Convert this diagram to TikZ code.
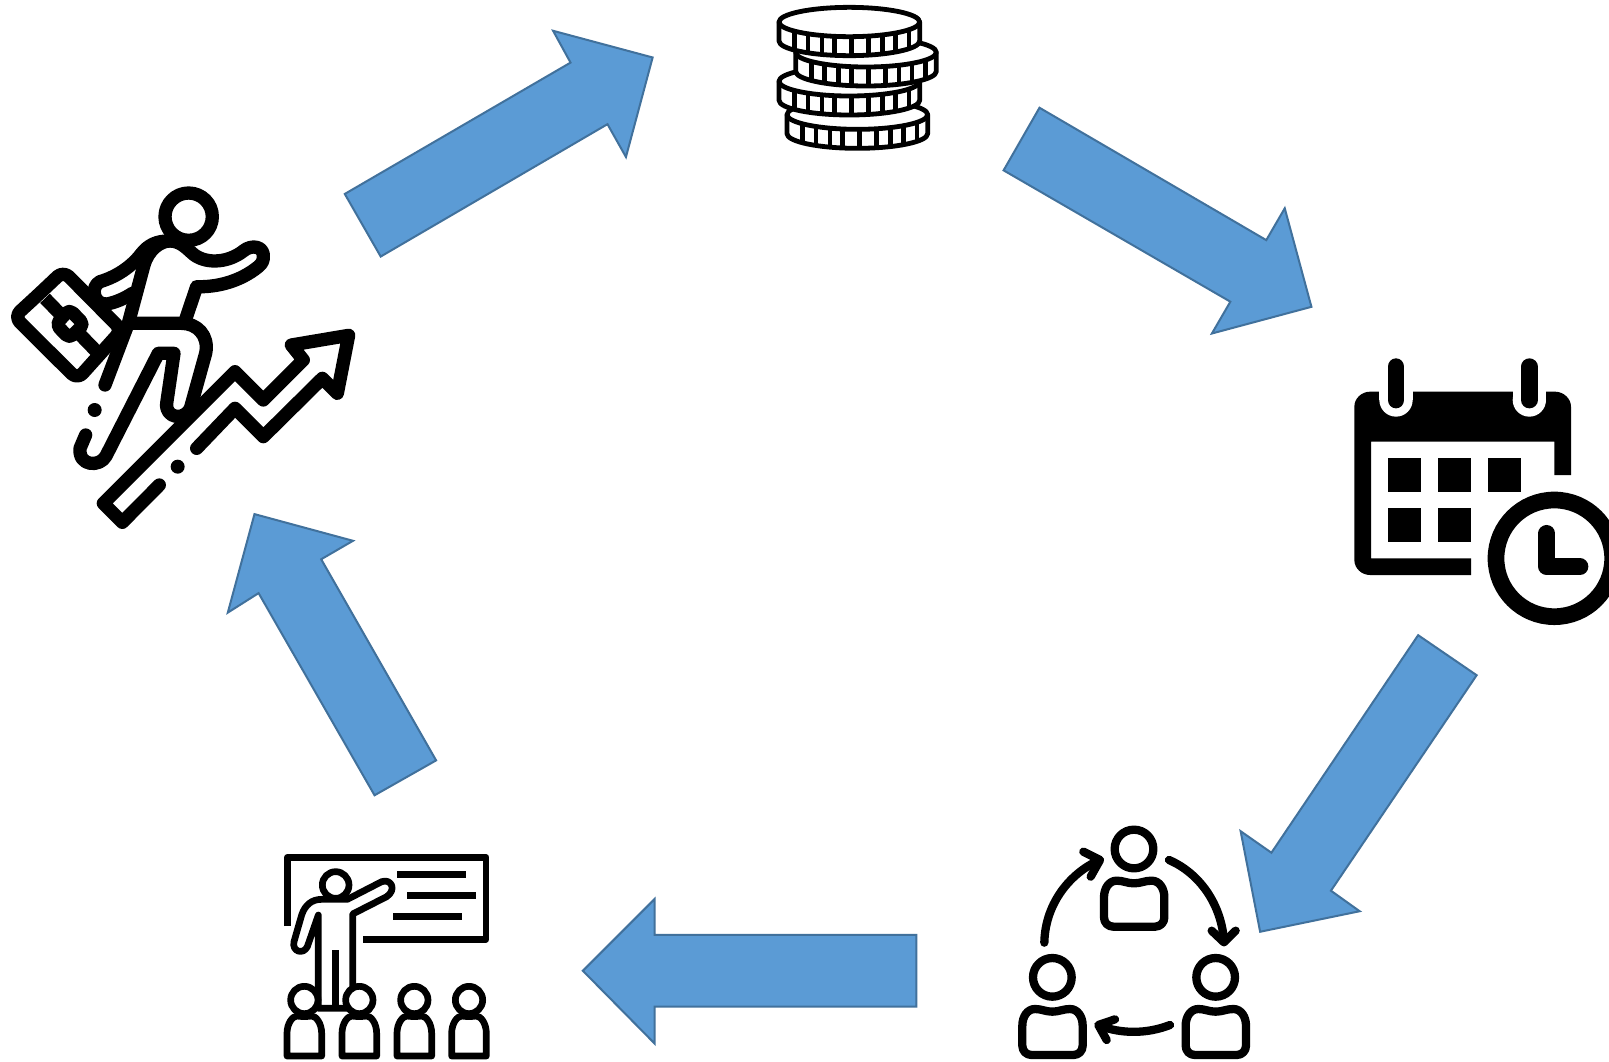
\documentclass[tikz,border=0pt]{standalone}
\definecolor{arrowfill}{HTML}{5B9BD5}
\definecolor{arrowline}{HTML}{41719C}
\tikzset{
  bigarrow/.style={fill=arrowfill,draw=arrowline,line width=2pt,line join=miter},
  ink/.style={draw=black,line cap=round,line join=round,fill=none},
  zoomframe/.style={x=0.33333pt,y=-0.33333pt},
}
\newcommand{\drawcoin}[2]{%
  \fill[white] (#1-211,#2) -- (#1-211,#2+57) .. controls (#1-211,#2+57+24) and (#1-116,#2+57+44) .. (#1,#2+57+44) .. controls (#1+116,#2+57+44) and (#1+211,#2+57+24) .. (#1+211,#2+57) -- (#1+211,#2) -- cycle;
  \foreach \a in {141,126,113,102,88,74,62,49,32}{
    \draw[line width=4.6pt] ({#1+211*cos(\a)},{#2+44*sin(\a)}) -- ({#1+211*cos(\a)},{#2+57+44*sin(\a)});
  }
  \draw[ink,line width=4.8pt,fill=white] (#1-211,#2) .. controls (#1-211,#2+24) and (#1-116,#2+44) .. (#1,#2+44) .. controls (#1+116,#2+44) and (#1+211,#2+24) .. (#1+211,#2) .. controls (#1+211,#2-24) and (#1+116,#2-44) .. (#1,#2-44) .. controls (#1-116,#2-44) and (#1-211,#2-24) .. (#1-211,#2) -- cycle;
  \draw[ink,line width=4.8pt] (#1-211,#2) -- (#1-211,#2+57) .. controls (#1-211,#2+57+24) and (#1-116,#2+57+44) .. (#1,#2+57+44) .. controls (#1+116,#2+57+44) and (#1+211,#2+57+24) .. (#1+211,#2+57) -- (#1+211,#2);
}
\newcommand{\teamperson}[2]{%
  \begin{scope}[shift={(#1,#2)}]
    \draw[ink,line width=8.3pt] (402,117) circle[radius=58];
    \draw[ink,line width=8.3pt] (350,212) .. controls (370,212) and (382,220) .. (402,220) .. controls (422,220) and (434,212) .. (455,212)
      .. controls (478,212) and (493,235) .. (493,262) -- (493,322)
      .. controls (493,338) and (481,350) .. (465,350) -- (340,350)
      .. controls (324,350) and (312,338) .. (312,322) -- (312,262)
      .. controls (312,235) and (327,212) .. (350,212) -- cycle;
  \end{scope}
}
\newcommand{\pupil}[1]{%
  \draw[ink,line width=6.7pt] (#1,480) circle[radius=41];
  \draw[ink,line width=6.7pt] (#1-52,648) -- (#1-52,580) .. controls (#1-52,550) and (#1-35,528) .. (#1-22,528)
    .. controls (#1-10,530) and (#1+10,530) .. (#1+22,528) .. controls (#1+35,528) and (#1+52,550) .. (#1+52,580) -- (#1+52,648) -- cycle;
}
\begin{document}
\begin{tikzpicture}[x=1pt,y=-1pt]
\useasboundingbox (0,0) rectangle (1609,1061);
\clip (0,0) rectangle (1609,1061);
\fill[white] (0,0) rectangle (1609,1061);

% ---- block arrows (coordinates of the 1568 wide view)
\begin{scope}[x=1.02615pt,y=-1.02615pt]
  \draw[bigarrow] (336,189) -- (556,61) -- (539,30) -- (636,56) -- (610,153) -- (592,121) -- (371,250) -- cycle;
  \draw[bigarrow] (1013,105) -- (1234,234) -- (1252,203) -- (1278,299) -- (1181,325) -- (1199,294) -- (978,166) -- cycle;
  \draw[bigarrow] (1439,658) -- (1297,868) -- (1325,888) -- (1228,908) -- (1209,810) -- (1239,831) -- (1382,619) -- cycle;
  \draw[bigarrow] (893,981) -- (638,981) -- (638,1017) -- (568,946) -- (638,876) -- (638,911) -- (893,911) -- cycle;
  \draw[bigarrow] (365,775) -- (252,578) -- (222,597) -- (248,501) -- (344,527) -- (313,545) -- (425,741) -- cycle;
\end{scope}

% ---- climbing business man
\begin{scope}[shift={(0,170)},zoomframe]
  \tikzset{ln/.style={ink,line width=13.3pt}}
  \draw[ln] (478,945) -- (367,1057) -- (310,1000) -- (705,605) -- (790,690) -- (910,570) -- (874,525) -- (1046,496) -- (1012,670) -- (967,625) -- (790,800) -- (705,715) -- (590,835);
  \draw[ln] (315,645) -- (385,460) -- (432,285) .. controls (445,240) and (480,213) .. (510,213)
     .. controls (540,213) and (560,235) .. (575,248) .. controls (610,282) and (680,282) .. (730,243)
     .. controls (755,222) and (795,228) .. (790,265) .. controls (788,280) and (780,285) .. (775,290)
     .. controls (720,335) and (650,352) .. (590,350) -- (558,445);
  \draw[ln] (395,460) -- (545,460) .. controls (590,460) and (628,495) .. (617,550) -- (572,712)
     .. controls (555,755) and (495,745) .. (500,700) -- (522,550) -- (475,550) -- (318,858)
     .. controls (300,892) and (235,890) .. (240,835) -- (257,795);
  \draw[ln] (505,213) .. controls (470,213) and (445,225) .. (425,250) .. controls (395,290) and (350,320) .. (300,335)
     .. controls (270,350) and (280,405) .. (320,402) .. controls (345,398) and (375,385) .. (397,370);
  \draw[ln,rounded corners=8pt] (117,372) -- (190,303) -- (365,480) -- (232,628) -- (43,440) -- cycle;
  \draw[ln,line cap=butt] (135,385) -- (290,545);
  \draw[ln,fill=white,rounded corners=5pt] (208,418) -- (252,463) -- (208,505) -- (168,463) -- cycle;
  \fill (284,720) circle[radius=21];
  \fill (533,890) circle[radius=21];
  \draw[ln] (566,140) circle[radius=71];
\end{scope}

% ---- coins
\begin{scope}[shift={(760,0)},zoomframe]
  \drawcoin{292}{344}
  \drawcoin{268}{244}
  \drawcoin{318}{157}
  \drawcoin{268}{66}
\end{scope}

% ---- calendar with clock
\begin{scope}[shift={(1340,350)},zoomframe]
  \fill (43,170) .. controls (43,145) and (65,125) .. (90,125) -- (645,125) .. controls (670,125) and (693,145) .. (693,170) -- (693,375) -- (643,375) -- (643,275) -- (93,275) -- (93,625) -- (393,625) -- (393,675) -- (90,675) .. controls (65,675) and (43,655) .. (43,630) -- cycle;
  \foreach \px in {168,568}{
    \fill[white] (\px-50,120) rectangle (\px+50,150);
    \fill[white] (\px,150) circle[radius=50];
    \draw[black,line width=16.7pt,line cap=round] (\px,50) -- (\px,150);
  }
  \foreach \sx/\sy in {143/325,293/325,443/325,143/475,293/475}{
    \fill (\sx,\sy) rectangle (\sx+100,\sy+100);
  }
  \draw[black,line width=16.7pt] (643,625) circle[radius=175];
  \draw[ink,line width=16.7pt] (620,550) -- (620,650) -- (720,650);
\end{scope}

% ---- team with circular arrows
\begin{scope}[shift={(1000,810)},zoomframe]
  \teamperson{0}{0}
  \teamperson{-245}{385}
  \teamperson{245}{385}
  \tikzset{ln/.style={ink,line width=8.3pt}}
  \draw[ln] (133,398) .. controls (135,290) and (200,195) .. (298,150);
  \draw[ln] (250,125) -- (300,150) -- (272,200);
  \draw[ln] (507,150) .. controls (600,190) and (665,285) .. (672,395);
  \draw[ln] (635,362) -- (672,397) -- (707,362);
  \draw[ln] (510,645) .. controls (440,672) and (365,672) .. (298,647);
  \draw[ln] (345,628) -- (295,645) -- (320,690);
\end{scope}

% ---- teacher at a board
\begin{scope}[shift={(270,840)},zoomframe]
  \tikzset{ln/.style={ink,line width=6.7pt}}
  \draw[ln,line cap=butt] (52,258) -- (52,52) -- (648,52) -- (648,298) -- (278,298);
  \draw[ln,line cap=butt] (382,103) -- (588,103);
  \draw[ln,line cap=butt] (412,166) -- (618,166);
  \draw[ln,line cap=butt] (370,229) -- (576,229);
  \draw[ln] (197,135) circle[radius=40];
  \draw[ln] (145,505) -- (145,225) -- (112,320) .. controls (100,345) and (65,335) .. (72,305) -- (95,225) .. controls (105,195) and (125,178) .. (155,178) -- (232,178) -- (335,125) .. controls (365,115) and (380,150) .. (350,170) -- (248,222) -- (248,505) -- cycle;
  \draw[ln,line cap=butt] (197,330) -- (197,505);
  \foreach \px in {103,268,433,597}{
    \fill[white] (\px,480) circle[radius=44];
    \pupil{\px}
  }
\end{scope}
\end{tikzpicture}
\end{document}
